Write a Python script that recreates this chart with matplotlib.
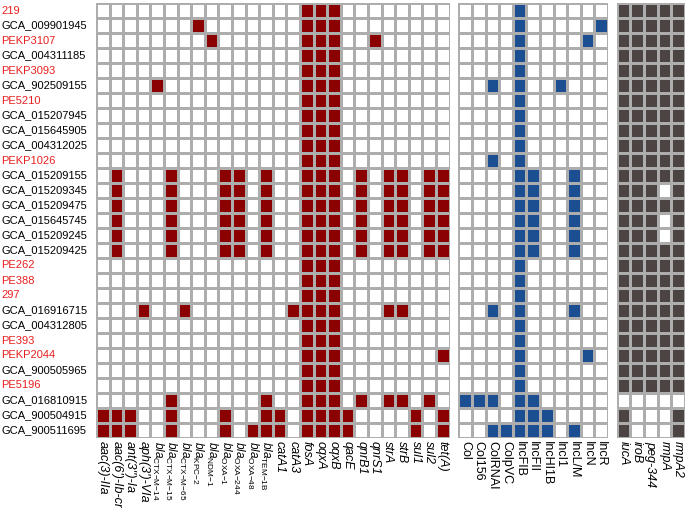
import matplotlib
matplotlib.use("Agg")
import matplotlib.pyplot as plt
import numpy as np
from matplotlib.colors import ListedColormap
from matplotlib.transforms import blended_transform_factory

plt.rcParams['font.family'] = ['Liberation Sans', 'DejaVu Sans']
plt.rcParams['mathtext.fontset'] = 'custom'
plt.rcParams['mathtext.rm'] = 'Liberation Sans'
plt.rcParams['mathtext.it'] = 'Liberation Sans:italic'
plt.rcParams['mathtext.bf'] = 'Liberation Sans:bold'

samples = ["219", "GCA_009901945", "PEKP3107", "GCA_004311185", "PEKP3093",
           "GCA_902509155", "PE5210", "GCA_015207945", "GCA_015645905",
           "GCA_004312025", "PEKP1026", "GCA_015209155", "GCA_015209345",
           "GCA_015209475", "GCA_015645745", "GCA_015209245", "GCA_015209425",
           "PE262", "PE388", "297", "GCA_016916715", "GCA_004312805", "PE393",
           "PEKP2044", "GCA_900505965", "PE5196", "GCA_016810915",
           "GCA_900504915", "GCA_900511695"]
highlighted = ["219", "PEKP3107", "PEKP3093", "PE5210", "PEKP1026", "PE262",
               "PE388", "297", "PE393", "PEKP2044", "PE5196"]

resistance_genes = ["aac(3)-IIa", "aac(6')-Ib-cr", "ant(3'')-Ia", "aph(3')-VIa",
                    "bla:CTX-M-14", "bla:CTX-M-15", "bla:CTX-M-65", "bla:KPC-2",
                    "bla:NDM-1", "bla:OXA-1", "bla:OXA-244", "bla:OXA-48",
                    "bla:TEM-1B", "catA1", "catA3", "fosA", "oqxA", "oqxB", "qacE",
                    "qnrB1", "qnrS1", "strA", "strB", "sul1", "sul2", "tet(A)"]
plasmid_replicons = ["Col", "Col156", "ColRNAI", "ColpVC", "IncFIB", "IncFII",
                     "IncHI1B", "IncI1", "IncL/M", "IncN", "IncR"]
virulence_genes = ["iucA", "iroB", "peg-344", "rmpA", "rmpA2"]

# presence strings, one per sample (row), one character per gene (column)
resistance_presence = [
    "00000000000000011100000000",
    "00000001000000011100000000",
    "00000000100000011100100000",
    "00000000000000011100000000",
    "00000000000000011100000000",
    "00001000000000011100000000",
    "00000000000000011100000000",
    "00000000000000011100000000",
    "00000000000000011100000000",
    "00000000000000011100000000",
    "00000000000000011100000000",
    "01000100011010011101011011",
    "01000100011010011101011011",
    "01000100011010011101011011",
    "01000100011010011101011011",
    "01000100011010011101011011",
    "01000100011010011101011011",
    "00000000000000011100000000",
    "00000000000000011100000000",
    "00000000000000011100000000",
    "00010010000000111100011000",
    "00000000000000011100000000",
    "00000000000000011100000000",
    "00000000000000011100000001",
    "00000000000000011100000000",
    "00000000000000011100000000",
    "00000100000010011101011010",
    "11100100010011011110000101",
    "11100100010111011110000101",
]
plasmid_presence = [
    "00001000000",
    "00001000001",
    "00001000010",
    "00001000000",
    "00001000000",
    "00101001000",
    "00001000000",
    "00001000000",
    "00001000000",
    "00001000000",
    "00101000000",
    "00001100100",
    "00001100100",
    "00001100100",
    "00001100100",
    "00001100100",
    "00001100100",
    "00001000000",
    "00001000000",
    "00001000000",
    "00101000100",
    "00001000000",
    "00001000000",
    "00001000010",
    "00001000000",
    "00001000000",
    "11101100000",
    "00001110000",
    "00111110100",
]
virulence_presence = [
    "11111", "11111", "11111", "11111", "11111", "11111", "11111", "11111",
    "11111", "11111", "11111", "11111", "11101", "11111", "11101", "11101",
    "11111", "11111", "11111", "11111", "11111", "11111", "11111", "11111",
    "11111", "11111", "00000", "10001", "10001",
]

W, H = 685, 508
fig = plt.figure(figsize=(W / 100, H / 100), dpi=100)

top_px, bot_px = 3, 438
cell_w = 13.6
groups = [
    (96.0, resistance_genes, resistance_presence, "#8B0000", True),
    (458.3, plasmid_replicons, plasmid_presence, "#1B4F92", False),
    (616.7, virulence_genes, virulence_presence, "#4B4442", True),
]


def fmt_label(name):
    if name.startswith("bla:"):
        sub = name[4:].replace("-", "{-}")
        return r"$\mathit{bla}_{\mathregular{" + sub + r"}}$"
    return name


axes = []
for left_px, genes, presence, color, italic in groups:
    width_px = cell_w * len(genes)
    ax = fig.add_axes([left_px / W, (H - bot_px) / H, width_px / W,
                       (bot_px - top_px) / H])
    mat = np.array([[int(c) for c in row] for row in presence])
    cmap = ListedColormap(["white", color])
    ax.pcolormesh(mat, cmap=cmap, vmin=0, vmax=1, edgecolors="#ADADAD",
                  linewidth=0.8)
    ax.set_xlim(0, len(genes))
    ax.set_ylim(len(samples), 0)
    for s in ax.spines.values():
        s.set_visible(False)
    ax.set_yticks([])
    ax.set_xticks(np.arange(len(genes)) + 0.5)
    labels = ax.set_xticklabels([fmt_label(g) for g in genes], rotation=-90,
                                fontsize=9, ha="center", va="top")
    for lab, g in zip(labels, genes):
        if g.startswith("bla:"):
            lab.set_fontsize(8.5)
        elif italic:
            lab.set_fontstyle("italic")
    ax.tick_params(axis="x", length=0, pad=2)
    axes.append(ax)

ax0 = axes[0]
trans = blended_transform_factory(fig.transFigure, ax0.transData)
for i, name in enumerate(samples):
    ax0.text(1 / W, i + 0.5, name, transform=trans, ha="left", va="center",
             fontsize=8, color="#E8201F" if name in highlighted else "black")

fig.savefig("out.png", dpi=100)
